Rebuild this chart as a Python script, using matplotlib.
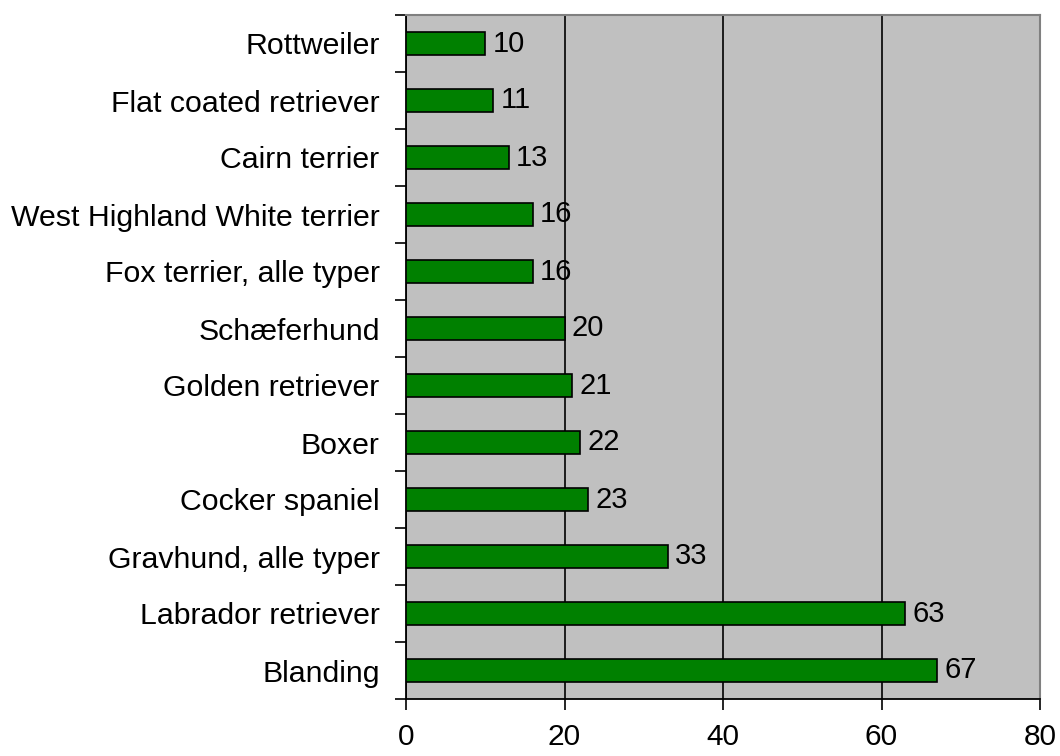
import numpy as np
import matplotlib.pyplot as plt

breeds = ['Blanding', 'Labrador retriever', 'Gravhund, alle typer', 'Cocker spaniel',
          'Boxer', 'Golden retriever', 'Schæferhund', 'Fox terrier, alle typer',
          'West Highland White terrier', 'Cairn terrier', 'Flat coated retriever',
          'Rottweiler']
counts = [67, 63, 33, 23, 22, 21, 20, 16, 16, 13, 11, 10]
xticks = [0, 20, 40, 60, 80]

plt.rcParams['font.family'] = ['Liberation Sans', 'DejaVu Sans']

fig = plt.figure(figsize=(10.6, 7.56), dpi=100)
ax = fig.add_axes([406 / 1060, 1 - 699 / 756, (1040 - 406) / 1060, (699 - 15) / 756])
ax.set_facecolor('#C0C0C0')

y = np.arange(len(breeds))
ax.barh(y, counts, height=0.42, color='#008000', edgecolor='black', linewidth=1.2, zorder=3)
for yi, c in zip(y, counts):
    ax.text(c + 0.9, yi, str(c), va='center', ha='left', fontsize=21, zorder=4)

ax.set_xlim(0, 80)
ax.set_ylim(-0.5, len(breeds) - 0.5)
ax.set_xticks(xticks)
ax.set_xticklabels([str(v) for v in xticks], fontsize=21.5)
ax.set_yticks(y)
ax.set_yticklabels(breeds, fontsize=21.8)
ax.set_yticks(np.arange(len(breeds) + 1) - 0.5, minor=True)
ax.tick_params(axis='y', which='major', length=0, pad=19)
ax.tick_params(axis='y', which='minor', length=8, width=1.2, direction='out')
ax.tick_params(axis='x', which='major', length=8, width=1.2, direction='out', pad=9)

ax.grid(axis='x', color='black', linewidth=1.2, zorder=1)
ax.set_axisbelow(True)

for s in ['left', 'bottom']:
    ax.spines[s].set_color('black')
    ax.spines[s].set_linewidth(1.3)
for s in ['top', 'right']:
    ax.spines[s].set_color('#808080')
    ax.spines[s].set_linewidth(1.5)

fig.savefig('out.png', dpi=100)
